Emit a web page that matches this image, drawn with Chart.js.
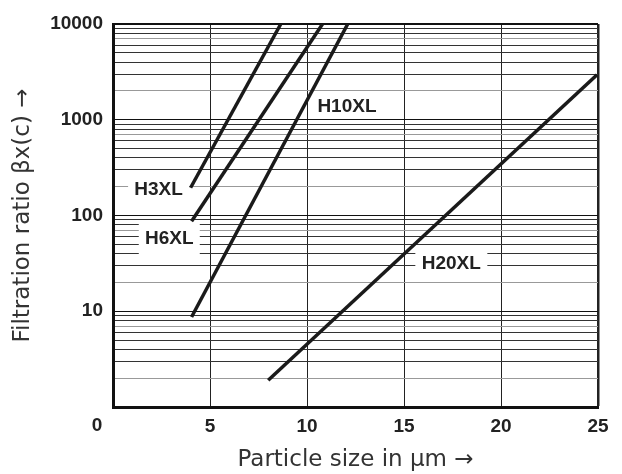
<!DOCTYPE html>
<html>
<head>
<meta charset="utf-8">
<script src="https://cdn.jsdelivr.net/npm/chart.js@4.4.0/dist/chart.umd.min.js"></script>
<style>
  html, body { margin: 0; padding: 0; background: #fff; }
</style>
</head>
<body>
<canvas id="chart" width="622" height="474"></canvas>
<script>
// end points of each curve: particle size (µm) -> filtration ratio
const seriesNames = ["H3XL", "H6XL", "H10XL", "H20XL"];
const h3xlX = [4.0, 8.65];
const h3xlY = [195, 10000];
const h6xlX = [4.05, 10.8];
const h6xlY = [87, 10000];
const h10xlX = [4.05, 12.1];
const h10xlY = [8.7, 10000];
const h20xlX = [8.0, 24.95];
const h20xlY = [1.9, 2950];

const xTickValues = [0, 5, 10, 15, 20, 25];
const yTickLabels = [10, 100, 1000, 10000];

// log grid: 1..9 in every decade
const yGrid = [];
[1, 10, 100, 1000].forEach(d => {
  for (let i = 1; i <= 9; i++) yGrid.push(i * d);
});
yGrid.push(10000);

const curves = [[h3xlX, h3xlY], [h6xlX, h6xlY], [h10xlX, h10xlY], [h20xlX, h20xlY]];

const tickFont = { family: "'Liberation Sans', Arial, sans-serif", size: 19, weight: "bold" };
const titleFont = { family: "'DejaVu Sans', sans-serif", size: 23 };

// where the curve names sit (data units) and size of the white box behind them
const nameSpots = {
  H3XL: { x: 2.35, y: 190, w: 61, h: 24 },
  H6XL: { x: 2.9, y: 58, w: 61, h: 32 },
  H10XL: { x: 12.06, y: 1400, w: 64, h: 20 },
  H20XL: { x: 17.44, y: 32, w: 72, h: 26 },
};

const namePlugin = {
  id: "names",
  beforeDatasetsDraw(chart) {
    const ctx = chart.ctx;
    const xs = chart.scales.x, ys = chart.scales.y;
    ctx.save();
    ctx.font = "bold 19px 'Liberation Sans', Arial, sans-serif";
    ctx.textAlign = "center";
    ctx.textBaseline = "middle";
    seriesNames.forEach(n => {
      const s = nameSpots[n];
      const px = xs.getPixelForValue(s.x);
      const py = ys.getPixelForValue(s.y);
      ctx.fillStyle = "#fff";
      ctx.fillRect(px - s.w / 2, py - s.h / 2, s.w, s.h);
      ctx.fillStyle = "#222";
      ctx.fillText(n, px, py + 1);
    });
    ctx.restore();
  },
  afterDraw(chart) {
    // the "0" sits left of the corner
    const ctx = chart.ctx;
    const xs = chart.scales.x;
    ctx.save();
    ctx.font = "bold 19px 'Liberation Sans', Arial, sans-serif";
    ctx.textAlign = "center";
    ctx.textBaseline = "middle";
    ctx.fillStyle = "#222";
    ctx.fillText("0", xs.getPixelForValue(0) - 16, chart.chartArea.bottom + 19);
    ctx.restore();
  }
};

const ctx = document.getElementById("chart").getContext("2d");
const myChart = new Chart(ctx, {
  type: "line",
  data: {
    datasets: curves.map((c, i) => ({
      label: seriesNames[i],
      data: c[0].map((x, j) => ({ x: x, y: c[1][j] })),
      borderColor: "#1a1a1a",
      borderWidth: 3.5,
      pointRadius: 0,
      fill: false,
      tension: 0,
    })),
  },
  options: {
    responsive: false,
    animation: false,
    layout: { padding: { top: 24, right: 24, left: 0, bottom: 0 } },
    plugins: {
      legend: { display: false },
      tooltip: { enabled: false },
    },
    scales: {
      x: {
        type: "linear",
        min: 0,
        max: 25,
        afterBuildTicks: (scale) => { scale.ticks = xTickValues.map(v => ({ value: v })); },
        afterFit: (scale) => { scale.height = 67; },
        ticks: {
          font: tickFont,
          color: "#222",
          padding: 8,
          maxRotation: 0,
          autoSkip: false,
          callback: (v) => (v === 0 ? "" : v),
        },
        grid: {
          drawTicks: false,
          color: "#222",
          lineWidth: (c) => (c.tick && c.tick.value === 25 ? 2.5 : 1),
        },
        border: { width: 3, color: "#111" },
        title: {
          display: true,
          text: "Particle size in µm →",
          font: titleFont,
          color: "#333",
          padding: { top: 0, bottom: 0 },
        },
      },
      y: {
        type: "logarithmic",
        min: 1,
        max: 10000,
        afterBuildTicks: (scale) => { scale.ticks = yGrid.map(v => ({ value: v })); },
        afterFit: (scale) => { scale.width = 113; },
        ticks: {
          font: tickFont,
          color: "#222",
          padding: 10,
          autoSkip: false,
          callback: (v) => (yTickLabels.includes(v) ? String(v) : ""),
        },
        grid: {
          drawTicks: false,
          color: (c) => {
            const v = c.tick ? c.tick.value : 1;
            const lead = Math.round(v / Math.pow(10, Math.floor(Math.log10(v) + 1e-9)));
            if (lead === 1) return "#111";
            if (lead === 2 || lead === 7) return "#999";
            return "#333";
          },
          lineWidth: (c) => (c.tick && c.tick.value === 10000 ? 2 : 1),
        },
        border: { width: 3, color: "#111" },
        title: {
          display: true,
          text: "Filtration ratio βx(c) →",
          font: titleFont,
          color: "#333",
          padding: { top: 9, bottom: 0 },
        },
      },
    },
  },
  plugins: [namePlugin],
});
</script>
</body>
</html>
